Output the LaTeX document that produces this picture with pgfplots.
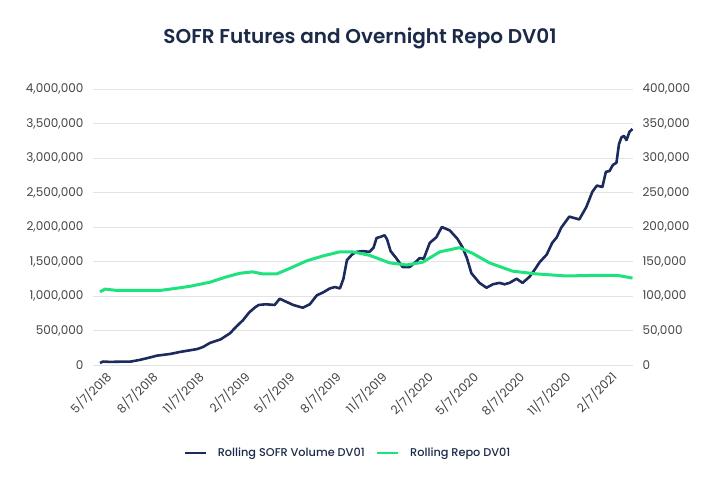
\documentclass[border=0pt]{standalone}
\usepackage{pgfplots}
\pgfplotsset{compat=1.18}
\usepackage{fontspec}
\setmainfont{Poppins}
\newfontfamily\titlefont{Poppins SemiBold}
\newfontfamily\legfont{Poppins Medium}

\definecolor{navy}{HTML}{1C2A5E}
\definecolor{repo}{HTML}{1EE27E}
\definecolor{tick}{HTML}{444444}
\definecolor{titlec}{HTML}{1B2A48}
\definecolor{gridc}{HTML}{E3E3E3}

% day 0 = 5/7/2018
\pgfplotstableread{
day  sofr
0    30000
6    50000
20   45000
40   48000
60   48000
80   75000
100  110000
113  135000
140  160000
160  190000
193  230000
205  260000
219  320000
240  370000
259  460000
272  560000
285  650000
297  760000
308  830000
316  870000
330  880000
348  870000
358  960000
370  920000
385  870000
404  830000
418  880000
432  1010000
444  1050000
458  1110000
468  1130000
478  1110000
485  1250000
492  1520000
502  1600000
511  1640000
524  1650000
537  1640000
545  1700000
551  1840000
560  1860000
567  1880000
572  1820000
579  1650000
590  1550000
603  1420000
617  1420000
630  1500000
637  1550000
645  1540000
657  1770000
670  1850000
681  2000000
697  1950000
712  1830000
722  1710000
731  1550000
740  1330000
756  1190000
770  1120000
783  1170000
796  1190000
806  1170000
816  1190000
830  1250000
842  1190000
856  1280000
866  1380000
876  1490000
890  1600000
901  1770000
910  1850000
919  1990000
935  2150000
955  2110000
962  2200000
969  2290000
981  2510000
990  2600000
1001 2580000
1008 2800000
1015 2810000
1022 2900000
1029 2930000
1034 3200000
1039 3300000
1044 3320000
1049 3260000
1055 3380000
1061 3420000
}\sofrtable

\pgfplotstableread{
day  repo
0    106000
10   110000
34   108000
60   108000
119  108000
150  111000
179  114000
219  120000
253  128000
279  133000
304  135000
324  132000
352  132000
378  140000
412  151000
444  158000
478  164000
503  164000
537  159000
577  148000
611  145000
643  149000
677  164000
716  170000
742  162000
776  148000
822  136000
870  132000
929  129000
989  130000
1030 130000
1061 126000
}\repotable

\pgfplotsset{
  common/.style={
    at={(93pt,135pt)}, anchor=south west,
    scale only axis, width=540pt, height=276pt,
    xmin=-14, xmax=1062,
    ymin=0,
    scaled y ticks=false,
    tick style={draw=none},
    ticklabel style={font=\fontsize{12}{14}\selectfont, text=tick},
    /pgf/number format/.cd, fixed, 1000 sep={,}, assume math mode=true,
  },
}

\begin{document}
\begin{tikzpicture}
\useasboundingbox (0,0) rectangle (720pt,500pt);

\begin{axis}[common,
  ymax=4000000,
  ytick={0,500000,...,4000000},
  axis x line*=bottom, axis y line*=left,
  axis line style={draw=none},
  ymajorgrids, grid style={gridc, line width=0.8pt},
  xtick={0,92,184,276,365,457,549,641,731,823,915,1007},
  xticklabels={5/7/2018,8/7/2018,11/7/2018,2/7/2019,5/7/2019,8/7/2019,11/7/2019,2/7/2020,5/7/2020,8/7/2020,11/7/2020,2/7/2021},
  x tick label style={rotate=45, anchor=north east, xshift=3pt, yshift=-3pt},
  yticklabel style={xshift=-6pt},
]
\addplot[navy, line width=2.6pt, line join=round] table[x=day, y=sofr] {\sofrtable};
\end{axis}

\begin{axis}[common,
  ymax=400000,
  ytick={0,50000,...,400000},
  axis x line=none, axis y line*=right,
  axis line style={draw=none},
  yticklabel style={xshift=6pt},
  legend style={at={(0.472,-0.319)}, anchor=center, draw=none, fill=none,
    legend columns=2, font=\legfont\fontsize{11.3}{14}\selectfont,
    column sep=9pt, text=titlec, nodes={inner sep=2pt}},
  legend cell align=left,
  legend image code/.code={\draw[#1, line width=2.5pt] (0pt,0pt) -- (21pt,0pt);},
]
\addlegendimage{navy}
\addlegendentry{Rolling SOFR Volume DV01}
\addplot[repo, line width=3pt, line join=round] table[x=day, y=repo] {\repotable};
\addlegendentry{Rolling Repo DV01}
\end{axis}

\node[font=\titlefont\fontsize{20}{24}\selectfont, text=titlec] at (360pt,462pt) {SOFR Futures and Overnight Repo DV01};
\end{tikzpicture}
\end{document}
